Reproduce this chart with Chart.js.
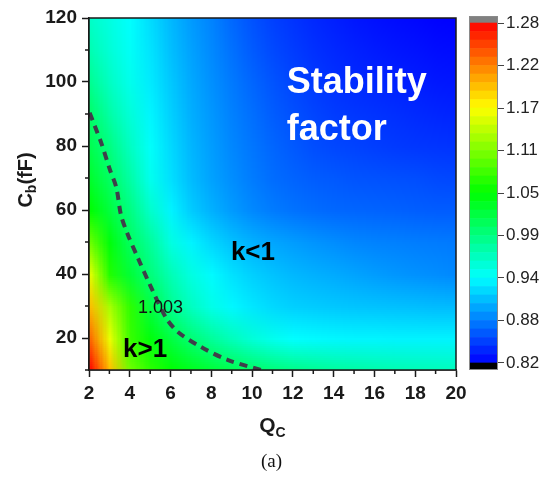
<!DOCTYPE html>
<html>
<head>
<meta charset="utf-8">
<script src="https://cdn.jsdelivr.net/npm/chart.js@4.4.1/dist/chart.umd.min.js"></script>
<style>
  html, body { margin: 0; padding: 0; background: #fff; }
  #wrap { position: relative; width: 544px; height: 477px; }
  #main { position: absolute; left: 0; top: 0; }
  #bar { position: absolute; left: 456px; top: 0; }
</style>
</head>
<body>
<div id="wrap">
  <canvas id="main" width="544" height="477"></canvas>
  <canvas id="bar" width="88" height="477"></canvas>
</div>
<script>
'use strict';

// grid axes of the stability-factor map
const qValues = [2, 3, 4, 5, 6, 7, 8, 9, 10, 11, 12, 13, 14, 15, 16, 17, 18, 19, 20];
const cbValues = [120, 110, 100, 90, 80, 70, 60, 50, 40, 30, 20, 10];

// k, one row per Cb (fF), columns follow qValues
const kCb120 = [0.960, 0.948, 0.935, 0.919, 0.903, 0.890, 0.879, 0.867, 0.857, 0.849, 0.843, 0.838, 0.834, 0.830, 0.827, 0.825, 0.823, 0.821, 0.820];
const kCb110 = [0.970, 0.953, 0.938, 0.923, 0.906, 0.893, 0.882, 0.871, 0.861, 0.853, 0.847, 0.842, 0.838, 0.835, 0.832, 0.830, 0.828, 0.826, 0.825];
const kCb100 = [0.985, 0.962, 0.943, 0.926, 0.910, 0.896, 0.885, 0.875, 0.866, 0.858, 0.851, 0.846, 0.842, 0.839, 0.837, 0.835, 0.833, 0.831, 0.830];
const kCb90 = [1.004, 0.975, 0.952, 0.931, 0.914, 0.899, 0.888, 0.878, 0.870, 0.862, 0.856, 0.851, 0.847, 0.845, 0.843, 0.841, 0.839, 0.837, 0.836];
const kCb80 = [1.015, 0.992, 0.962, 0.937, 0.918, 0.902, 0.891, 0.881, 0.873, 0.866, 0.860, 0.855, 0.852, 0.850, 0.848, 0.846, 0.845, 0.844, 0.843];
const kCb70 = [1.030, 1.006, 0.975, 0.942, 0.921, 0.905, 0.893, 0.884, 0.876, 0.869, 0.865, 0.862, 0.860, 0.858, 0.857, 0.856, 0.855, 0.853, 0.852];
const kCb60 = [1.050, 1.022, 0.992, 0.958, 0.930, 0.912, 0.900, 0.890, 0.882, 0.876, 0.872, 0.869, 0.867, 0.866, 0.865, 0.864, 0.863, 0.862, 0.862];
const kCb50 = [1.100, 1.045, 1.007, 0.980, 0.948, 0.930, 0.917, 0.907, 0.900, 0.895, 0.891, 0.887, 0.884, 0.881, 0.879, 0.878, 0.877, 0.876, 0.875];
const kCb40 = [1.155, 1.065, 1.025, 0.995, 0.968, 0.948, 0.933, 0.922, 0.914, 0.908, 0.903, 0.900, 0.897, 0.894, 0.891, 0.888, 0.886, 0.884, 0.882];
const kCb30 = [1.195, 1.125, 1.070, 1.020, 0.985, 0.963, 0.945, 0.932, 0.924, 0.918, 0.914, 0.912, 0.910, 0.909, 0.908, 0.907, 0.906, 0.905, 0.905];
const kCb20 = [1.235, 1.155, 1.075, 1.045, 1.020, 0.998, 0.980, 0.965, 0.952, 0.942, 0.935, 0.933, 0.932, 0.931, 0.931, 0.930, 0.930, 0.930, 0.930];
const kCb10 = [1.280, 1.195, 1.100, 1.070, 1.050, 1.038, 1.026, 1.015, 1.005, 0.997, 0.990, 0.985, 0.980, 0.977, 0.974, 0.971, 0.969, 0.967, 0.965];
const kRows = [kCb120, kCb110, kCb100, kCb90, kCb80, kCb70, kCb60, kCb50, kCb40, kCb30, kCb20, kCb10];

// k = 1.003 contour (dashed)
const contourQ = [2.03, 2.28, 2.60, 3.02, 3.34, 3.57, 3.91, 4.40, 4.99, 5.78, 6.36, 7.49, 8.82, 10.44];
const contourCb = [90.4, 86.3, 81.0, 72.7, 67.0, 58.4, 52.2, 45.0, 36.6, 26.3, 21.9, 17.2, 13.1, 10.0];

// ticks
const xTicks = [2, 4, 6, 8, 10, 12, 14, 16, 18, 20];
const xMinor = [3, 5, 7, 9, 11, 13, 15, 17, 19];
const yTicks = [20, 40, 60, 80, 100, 120];
const yMinor = [10, 30, 50, 70, 90, 110];
const barTicks = [0.82, 0.8775, 0.935, 0.9925, 1.05, 1.1075, 1.165, 1.2225, 1.28];
const barLabels = ['0.82', '0.88', '0.94', '0.99', '1.05', '1.11', '1.17', '1.22', '1.28'];

const K_MIN = 0.82, K_MAX = 1.28, K_LEVELS = 40;
const SANS = '"Liberation Sans", Arial, sans-serif';
const INK = '#1a1a1a';

// rainbow: blue -> cyan -> green -> yellow -> red
const STOPS = [[0, 0, 255], [0, 255, 255], [0, 255, 0], [255, 255, 0], [255, 0, 0]];
function kColor(v) {
    let t = (v - K_MIN) / (K_MAX - K_MIN) * 4;
    t = Math.max(0, Math.min(4, t));
    const i = Math.min(3, Math.floor(t)), f = t - i;
    const a = STOPS[i], b = STOPS[i + 1];
    return [0, 1, 2].map(c => Math.round(a[c] + (b[c] - a[c]) * f));
}

function drawParts(ctx, parts, cx, baseY) {
    // centred run of text pieces, some of them subscripts
    const widths = parts.map(p => { ctx.font = p.font; return ctx.measureText(p.text).width; });
    let x = cx - widths.reduce((s, w) => s + w, 0) / 2;
    parts.forEach((p, i) => {
        ctx.font = p.font;
        ctx.fillText(p.text, x, baseY + (p.shift || 0));
        x += widths[i];
    });
}

const heatmapPlugin = {
    id: 'heatmap',
    beforeDatasetsDraw(chart) {
        const { ctx, chartArea, scales: { x, y } } = chart;
        const off = document.createElement('canvas');
        off.width = qValues.length;
        off.height = cbValues.length;
        const octx = off.getContext('2d');
        const img = octx.createImageData(off.width, off.height);
        kRows.forEach((row, r) => row.forEach((v, c) => {
            const rgb = kColor(v), p = (r * off.width + c) * 4;
            img.data[p] = rgb[0]; img.data[p + 1] = rgb[1]; img.data[p + 2] = rgb[2]; img.data[p + 3] = 255;
        }));
        octx.putImageData(img, 0, 0);

        const dq = (qValues[1] - qValues[0]) / 2;
        const dc = (cbValues[0] - cbValues[1]) / 2;
        const left = x.getPixelForValue(qValues[0] - dq);
        const right = x.getPixelForValue(qValues[qValues.length - 1] + dq);
        const top = y.getPixelForValue(cbValues[0] + dc);
        const bottom = y.getPixelForValue(cbValues[cbValues.length - 1] - dc);

        ctx.save();
        ctx.beginPath();
        ctx.rect(chartArea.left, chartArea.top, chartArea.width, chartArea.height);
        ctx.clip();
        ctx.imageSmoothingEnabled = true;
        ctx.imageSmoothingQuality = 'low';
        ctx.drawImage(off, left, top, right - left, bottom - top);
        ctx.restore();
    },
    afterDatasetsDraw(chart) {
        const { ctx, chartArea: a, scales: { x, y } } = chart;
        ctx.save();

        // frame and minor ticks
        ctx.strokeStyle = INK;
        ctx.lineWidth = 1.5;
        ctx.strokeRect(a.left, a.top, a.right - a.left, a.bottom - a.top);
        ctx.beginPath();
        xMinor.forEach(v => { const px = x.getPixelForValue(v); ctx.moveTo(px, a.bottom); ctx.lineTo(px, a.bottom + 4); });
        yMinor.forEach(v => { const py = y.getPixelForValue(v); ctx.moveTo(a.left - 4, py); ctx.lineTo(a.left, py); });
        ctx.stroke();

        // annotations, placed in data units
        ctx.textAlign = 'left';
        ctx.textBaseline = 'alphabetic';
        ctx.fillStyle = '#fff';
        ctx.font = 'bold 36px ' + SANS;
        ctx.fillText('Stability', x.getPixelForValue(11.7), y.getPixelForValue(96.6));
        ctx.fillText('factor', x.getPixelForValue(11.7), y.getPixelForValue(81.9));
        ctx.fillStyle = '#000';
        ctx.font = 'bold 26px ' + SANS;
        ctx.fillText('k<1', x.getPixelForValue(8.96), y.getPixelForValue(44.4));
        ctx.fillText('k>1', x.getPixelForValue(3.67), y.getPixelForValue(14));
        ctx.font = '18px ' + SANS;
        ctx.fillStyle = '#111';
        ctx.fillText('1.003', x.getPixelForValue(4.4), y.getPixelForValue(27.8));

        // axis titles
        ctx.fillStyle = INK;
        drawParts(ctx, [
            { text: 'Q', font: 'bold 21px ' + SANS },
            { text: 'C', font: 'bold 14px ' + SANS, shift: 5 },
        ], (a.left + a.right) / 2, a.bottom + 62);

        ctx.save();
        ctx.translate(32, 180);
        ctx.rotate(-Math.PI / 2);
        drawParts(ctx, [
            { text: 'C', font: 'bold 20px ' + SANS },
            { text: 'b', font: 'bold 14px ' + SANS, shift: 4 },
            { text: '(fF)', font: 'bold 20px ' + SANS },
        ], 0, 0);
        ctx.restore();

        ctx.fillStyle = '#111';
        drawParts(ctx, [{ text: '(a)', font: '19px "Liberation Serif", "Times New Roman", serif' }],
            (a.left + a.right) / 2 - 1, a.bottom + 97);
        ctx.restore();
    }
};

const tickFont = { family: SANS, size: 19, weight: 'bold' };

new Chart(document.getElementById('main'), {
    type: 'scatter',
    data: {
        datasets: [{
            data: contourQ.map((q, i) => ({ x: q, y: contourCb[i] })),
            showLine: true,
            borderColor: '#3f3f4a',
            borderWidth: 4,
            borderDash: [8, 6],
            pointRadius: 0,
            tension: 0.3,
            fill: false,
        }]
    },
    options: {
        responsive: false,
        animation: false,
        events: [],
        layout: { padding: { left: 0, right: 88, top: 18, bottom: 77 } },
        plugins: { legend: { display: false }, tooltip: { enabled: false } },
        scales: {
            x: {
                type: 'linear', min: 2, max: 20,
                afterBuildTicks: s => { s.ticks = xTicks.map(v => ({ value: v })); },
                afterFit: s => { s.height = 30; },
                grid: { drawOnChartArea: false, tickLength: 7, tickWidth: 1.5, tickColor: INK },
                border: { display: true, color: INK, width: 1.5 },
                ticks: { font: tickFont, color: INK, padding: 5, maxRotation: 0, autoSkip: false },
            },
            y: {
                type: 'linear', min: 10, max: 120,
                afterBuildTicks: s => { s.ticks = yTicks.map(v => ({ value: v })); },
                afterFit: s => { s.width = 89; },
                grid: { drawOnChartArea: false, tickLength: 7, tickWidth: 1.5, tickColor: INK },
                border: { display: true, color: INK, width: 1.5 },
                ticks: { font: tickFont, color: INK, padding: 5, autoSkip: false },
            }
        }
    },
    plugins: [heatmapPlugin]
});

// colour bar: 40 level bands plus the under/over caps
const step = (K_MAX - K_MIN) / K_LEVELS;
const capSize = 0.0095;
const bands = [{ lo: K_MIN - capSize, hi: K_MIN, color: '#000000' }];
for (let i = 0; i < K_LEVELS; i++) {
    const rgb = kColor(K_MIN + (i + 0.5) * step);
    bands.push({ lo: K_MIN + i * step, hi: K_MIN + (i + 1) * step, color: `rgb(${rgb.join(',')})` });
}
bands.push({ lo: K_MAX, hi: K_MAX + capSize, color: '#808080' });

const barFramePlugin = {
    id: 'barFrame',
    afterDatasetsDraw(chart) {
        const { ctx, chartArea: a } = chart;
        ctx.save();
        ctx.strokeStyle = '#8a8a8a';
        ctx.lineWidth = 1;
        ctx.strokeRect(a.left + 0.5, a.top + 0.5, a.right - a.left - 1, a.bottom - a.top - 1);
        ctx.restore();
    }
};

new Chart(document.getElementById('bar'), {
    type: 'bar',
    data: {
        labels: [''],
        datasets: bands.map(b => ({
            data: [[b.lo, b.hi]],
            backgroundColor: b.color,
            borderWidth: 0,
            grouped: false,
            barPercentage: 1,
            categoryPercentage: 1,
        }))
    },
    options: {
        responsive: false,
        animation: false,
        events: [],
        layout: { padding: { left: 13, right: 0, top: 16, bottom: 107 } },
        plugins: { legend: { display: false }, tooltip: { enabled: false } },
        scales: {
            x: { display: false },
            y: {
                position: 'right',
                min: K_MIN - capSize, max: K_MAX + capSize,
                afterBuildTicks: s => { s.ticks = barTicks.map(v => ({ value: v })); },
                afterFit: s => { s.width = 46; },
                grid: { drawOnChartArea: false, tickLength: 6, tickWidth: 1, tickColor: '#444' },
                border: { display: false },
                ticks: {
                    callback: (v, i) => barLabels[i],
                    font: { family: SANS, size: 17 },
                    color: '#222',
                    padding: 2,
                    autoSkip: false,
                },
            }
        }
    },
    plugins: [barFramePlugin]
});
</script>
</body>
</html>
